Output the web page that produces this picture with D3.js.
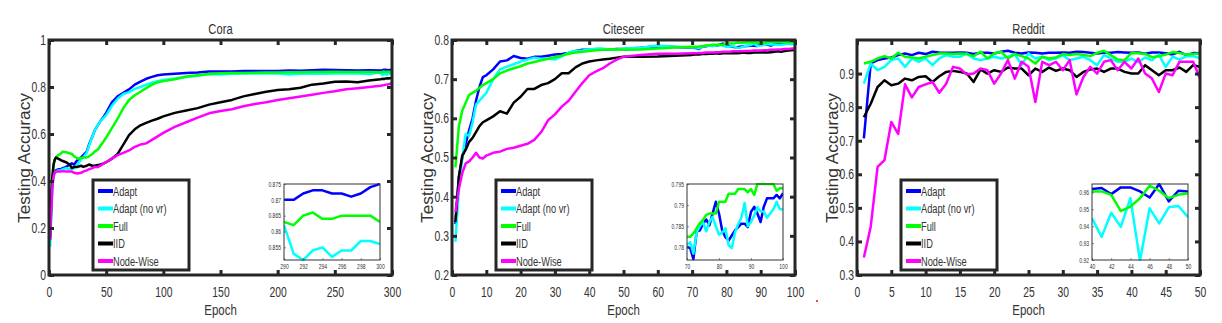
<!DOCTYPE html>
<html><head><meta charset="utf-8">
<script src="https://cdn.jsdelivr.net/npm/d3@7"></script>
<style>
body{margin:0;background:#fff;}
svg{display:block;}
text{font-family:"Liberation Sans",Arial,sans-serif;fill:#333;}
</style></head>
<body>
<svg id="chart" width="1222" height="323"></svg>
<script>
// ---------- DATA ----------
const seriesNames = ["Adapt","Adapt (no vr)","Full","IID","Node-Wise"];
const seriesColors = ["#0000ff","#00ffff","#00ff00","#000000","#ff00ff"];

// Cora
const coraEpochs = [1,2,3,4,5,6,8,10,12,15,18,20,22,25,28,30,33,35,38,40,43,45,48,50,55,60,65,70,75,80,85,90,95,100,110,120,130,140,150,160,170,180,190,200,210,220,230,240,250,260,270,280,290,291,292,293,294,295,296,297,298,299,300];
const coraAdapt = [0.15,0.30,0.40,0.43,0.44,0.445,0.45,0.45,0.455,0.46,0.47,0.475,0.47,0.49,0.50,0.51,0.525,0.555,0.59,0.615,0.64,0.655,0.675,0.69,0.735,0.76,0.775,0.79,0.81,0.823,0.835,0.843,0.85,0.853,0.856,0.86,0.862,0.866,0.866,0.866,0.868,0.868,0.868,0.868,0.87,0.869,0.871,0.873,0.872,0.871,0.87,0.871,0.870,0.870,0.872,0.873,0.873,0.872,0.872,0.871,0.872,0.874,0.875];
const coraNoVr = [0.12,0.25,0.38,0.42,0.435,0.44,0.445,0.445,0.45,0.455,0.45,0.45,0.455,0.47,0.49,0.50,0.52,0.55,0.59,0.615,0.64,0.655,0.67,0.68,0.72,0.75,0.77,0.778,0.792,0.80,0.81,0.818,0.825,0.83,0.836,0.842,0.848,0.855,0.853,0.856,0.857,0.857,0.858,0.857,0.853,0.856,0.857,0.856,0.857,0.858,0.857,0.855,0.862,0.853,0.851,0.854,0.855,0.852,0.854,0.854,0.857,0.857,0.856];
const coraFull = [0.18,0.32,0.42,0.47,0.49,0.50,0.51,0.515,0.525,0.522,0.518,0.515,0.505,0.495,0.498,0.50,0.50,0.505,0.515,0.525,0.535,0.55,0.57,0.585,0.625,0.665,0.71,0.745,0.765,0.78,0.795,0.81,0.82,0.825,0.833,0.845,0.85,0.855,0.858,0.86,0.86,0.861,0.862,0.862,0.863,0.863,0.864,0.864,0.865,0.864,0.864,0.864,0.863,0.862,0.865,0.866,0.864,0.864,0.865,0.865,0.865,0.865,0.863];
const coraIID = [0.16,0.33,0.42,0.47,0.49,0.50,0.495,0.49,0.485,0.48,0.47,0.455,0.46,0.46,0.465,0.46,0.465,0.47,0.465,0.465,0.468,0.47,0.475,0.48,0.495,0.515,0.555,0.595,0.62,0.637,0.647,0.657,0.665,0.675,0.69,0.70,0.71,0.725,0.735,0.745,0.76,0.77,0.78,0.787,0.79,0.797,0.81,0.815,0.822,0.823,0.82,0.828,0.833,0.834,0.835,0.834,0.836,0.836,0.837,0.836,0.837,0.838,0.838];
const coraNW = [0.15,0.28,0.38,0.42,0.435,0.44,0.44,0.44,0.442,0.44,0.44,0.44,0.435,0.432,0.435,0.44,0.445,0.45,0.455,0.46,0.46,0.465,0.475,0.48,0.495,0.51,0.52,0.53,0.545,0.555,0.56,0.575,0.59,0.605,0.63,0.65,0.67,0.688,0.698,0.705,0.718,0.728,0.735,0.745,0.752,0.76,0.767,0.775,0.782,0.79,0.795,0.80,0.805,0.806,0.807,0.808,0.809,0.81,0.811,0.812,0.813,0.815,0.816];
const coraXTicks = [0,50,100,150,200,250,300];
const coraYTicks = [0,0.2,0.4,0.6,0.8,1];
const coraInsetXTicks = [290,292,294,296,298,300];
const coraInsetYTicks = [0.855,0.86,0.865,0.87,0.875];

// Citeseer
const citeEpochs = [1,2,3,4,5,6,7,8,9,10,12,14,16,18,20,22,24,26,28,30,32,34,36,38,40,42,44,46,48,50,55,60,65,70,71,72,73,74,75,76,77,78,79,80,81,82,83,84,85,86,87,88,89,90,91,92,93,94,95,96,97,98,99,100];
const citeAdapt = [0.33,0.45,0.50,0.535,0.57,0.60,0.645,0.68,0.705,0.71,0.725,0.745,0.748,0.759,0.754,0.752,0.757,0.757,0.76,0.763,0.764,0.767,0.772,0.775,0.775,0.775,0.775,0.776,0.777,0.777,0.78,0.784,0.782,0.7801,0.7798,0.7772,0.7837,0.784,0.7856,0.7866,0.7852,0.788,0.7908,0.788,0.784,0.7824,0.7816,0.7828,0.784,0.7848,0.7856,0.7856,0.7848,0.7884,0.7896,0.788,0.786,0.7896,0.7916,0.7916,0.7916,0.7924,0.7916,0.7928];
const citeNoVr = [0.285,0.42,0.50,0.56,0.555,0.59,0.635,0.645,0.655,0.665,0.70,0.725,0.732,0.738,0.745,0.75,0.755,0.752,0.752,0.75,0.758,0.768,0.772,0.773,0.776,0.778,0.778,0.776,0.776,0.778,0.78,0.786,0.783,0.7806,0.7812,0.7785,0.7835,0.785,0.786,0.7838,0.786,0.7872,0.785,0.783,0.7835,0.7845,0.7805,0.7798,0.7835,0.7855,0.787,0.7905,0.785,0.786,0.7875,0.7895,0.7885,0.7885,0.787,0.788,0.789,0.7908,0.789,0.789];
const citeFull = [0.475,0.58,0.62,0.64,0.66,0.665,0.67,0.678,0.685,0.69,0.70,0.715,0.722,0.728,0.733,0.74,0.744,0.748,0.752,0.756,0.76,0.765,0.768,0.77,0.772,0.774,0.775,0.776,0.776,0.775,0.776,0.778,0.781,0.7825,0.7825,0.7833,0.7845,0.7857,0.7865,0.7877,0.788,0.788,0.788,0.7908,0.7908,0.7908,0.7927,0.7927,0.7927,0.7938,0.7938,0.7938,0.793,0.7938,0.7924,0.795,0.795,0.795,0.795,0.795,0.795,0.7934,0.794,0.794];
const citeIID = [0.335,0.45,0.505,0.52,0.54,0.55,0.565,0.58,0.59,0.595,0.605,0.618,0.612,0.64,0.655,0.675,0.675,0.685,0.69,0.70,0.715,0.715,0.73,0.74,0.745,0.748,0.75,0.752,0.755,0.757,0.757,0.758,0.76,0.762,0.763,0.763,0.764,0.764,0.765,0.765,0.766,0.765,0.766,0.766,0.767,0.766,0.766,0.767,0.768,0.767,0.767,0.768,0.768,0.768,0.769,0.768,0.769,0.770,0.771,0.770,0.772,0.773,0.774,0.775];
const citeNW = [0.36,0.42,0.46,0.485,0.49,0.50,0.512,0.50,0.497,0.505,0.512,0.515,0.522,0.525,0.53,0.535,0.545,0.565,0.595,0.61,0.63,0.645,0.668,0.69,0.71,0.72,0.728,0.74,0.75,0.757,0.762,0.765,0.765,0.766,0.766,0.767,0.767,0.768,0.768,0.768,0.769,0.769,0.770,0.770,0.770,0.771,0.771,0.771,0.772,0.772,0.772,0.773,0.773,0.773,0.774,0.774,0.775,0.775,0.776,0.776,0.777,0.777,0.778,0.778];
const citeXTicks = [0,10,20,30,40,50,60,70,80,90,100];
const citeYTicks = [0.2,0.3,0.4,0.5,0.6,0.7,0.8];
const citeInsetXTicks = [70,80,90,100];
const citeInsetYTicks = [0.78,0.785,0.79,0.795];

// Reddit
const redEpochs = [1,2,3,4,5,6,7,8,9,10,11,12,13,14,15,16,17,18,19,20,21,22,23,24,25,26,27,28,29,30,31,32,33,34,35,36,37,38,39,40,41,42,43,44,45,46,47,48,49,50];
const redAdapt = [0.707,0.93,0.94,0.945,0.948,0.955,0.96,0.955,0.962,0.958,0.965,0.963,0.962,0.962,0.963,0.962,0.958,0.962,0.962,0.96,0.965,0.968,0.962,0.96,0.963,0.962,0.96,0.962,0.962,0.963,0.962,0.965,0.964,0.962,0.96,0.962,0.962,0.964,0.963,0.962,0.9626,0.959,0.963,0.963,0.9606,0.957,0.965,0.9547,0.961,0.9606];
const redNoVr = [0.87,0.93,0.91,0.92,0.94,0.945,0.92,0.945,0.935,0.945,0.925,0.945,0.955,0.95,0.95,0.96,0.945,0.94,0.945,0.95,0.945,0.95,0.958,0.925,0.96,0.945,0.95,0.94,0.945,0.955,0.94,0.945,0.95,0.94,0.925,0.955,0.945,0.935,0.935,0.9447,0.9337,0.948,0.9396,0.9566,0.9196,0.9506,0.9417,0.9512,0.952,0.9453];
const redFull = [0.93,0.935,0.945,0.952,0.945,0.962,0.95,0.948,0.945,0.95,0.955,0.96,0.96,0.958,0.96,0.958,0.952,0.965,0.945,0.96,0.965,0.945,0.958,0.952,0.945,0.93,0.95,0.945,0.948,0.958,0.955,0.958,0.955,0.952,0.962,0.968,0.955,0.942,0.94,0.9606,0.9606,0.9586,0.949,0.9516,0.9566,0.964,0.961,0.9566,0.9586,0.9596];
const redIID = [0.77,0.81,0.86,0.88,0.865,0.87,0.885,0.88,0.89,0.892,0.875,0.892,0.905,0.908,0.905,0.9,0.875,0.912,0.9,0.91,0.905,0.918,0.915,0.915,0.895,0.915,0.905,0.918,0.908,0.915,0.91,0.89,0.905,0.912,0.915,0.905,0.915,0.915,0.905,0.9,0.9,0.925,0.91,0.895,0.91,0.91,0.918,0.905,0.925,0.92];
const redNW = [0.352,0.444,0.622,0.642,0.756,0.72,0.868,0.829,0.86,0.868,0.875,0.843,0.87,0.92,0.915,0.897,0.9,0.915,0.91,0.87,0.9,0.94,0.885,0.935,0.92,0.815,0.935,0.925,0.935,0.91,0.94,0.838,0.89,0.92,0.9,0.935,0.94,0.91,0.935,0.915,0.945,0.9,0.885,0.845,0.9,0.895,0.935,0.935,0.935,0.885];
const redXTicks = [0,5,10,15,20,25,30,35,40,45,50];
const redYTicks = [0.3,0.4,0.5,0.6,0.7,0.8,0.9];
const redInsetXTicks = [40,42,44,46,48,50];
const redInsetYTicks = [0.92,0.93,0.94,0.95,0.96];

// ---------- PANELS ----------
const panels = [
  {title:"Cora", left:49, epochs:coraEpochs, series:[coraAdapt,coraNoVr,coraFull,coraIID,coraNW],
   xDomain:[0,300], yDomain:[0,1], xTicks:coraXTicks, yTicks:coraYTicks,
   inset:{xDomain:[290,300], yDomain:[0.851,0.875], xTicks:coraInsetXTicks, yTicks:coraInsetYTicks}},
  {title:"Citeseer", left:452, epochs:citeEpochs, series:[citeAdapt,citeNoVr,citeFull,citeIID,citeNW],
   xDomain:[0,100], yDomain:[0.2,0.8], xTicks:citeXTicks, yTicks:citeYTicks,
   inset:{xDomain:[70,100], yDomain:[0.777,0.795], xTicks:citeInsetXTicks, yTicks:citeInsetYTicks}},
  {title:"Reddit", left:857, epochs:redEpochs, series:[redAdapt,redNoVr,redFull,redIID,redNW],
   xDomain:[0,50], yDomain:[0.3,1.0], xTicks:redXTicks, yTicks:redYTicks,
   inset:{xDomain:[40,50], yDomain:[0.92,0.965], xTicks:redInsetXTicks, yTicks:redInsetYTicks}}
];

const svg = d3.select("#chart");
const W = 343, plotTop = 40, plotBottom = 275;
const frameColor = "#262626";

// horizontally condense text (reference uses a narrow face)
function squeeze(sel, f) {
  sel.each(function() {
    const len = this.getComputedTextLength();
    if (len > 0) d3.select(this).attr("textLength", len * f).attr("lengthAdjust", "spacingAndGlyphs");
  });
}

panels.forEach((p, pi) => {
  const x = d3.scaleLinear().domain(p.xDomain).range([p.left, p.left + W]);
  const y = d3.scaleLinear().domain(p.yDomain).range([plotBottom, plotTop]);
  const g = svg.append("g");
  const clipId = "clip" + pi;
  svg.append("clipPath").attr("id", clipId).append("rect")
    .attr("x", p.left).attr("y", plotTop).attr("width", W).attr("height", plotBottom - plotTop);

  // lines
  const line = d3.line().x((d,i) => x(p.epochs[i])).y(d => y(d));
  const lg = g.append("g").attr("clip-path", `url(#${clipId})`);
  p.series.forEach((s, si) => {
    lg.append("path").datum(s).attr("d", line)
      .attr("fill","none").attr("stroke", seriesColors[si]).attr("stroke-width", 2.5)
      .attr("stroke-linejoin","round");
  });

  // axes
  const fmt = d => String(+d.toFixed(3));
  const ax = g.append("g").attr("transform", `translate(0,${plotBottom})`)
    .call(d3.axisBottom(x).tickValues(p.xTicks).tickSize(-5).tickSizeOuter(0).tickPadding(12).tickFormat(fmt));
  const axT = g.append("g").attr("transform", `translate(0,${plotTop})`)
    .call(d3.axisTop(x).tickValues(p.xTicks).tickSize(-5).tickSizeOuter(0).tickFormat(""));
  const ay = g.append("g").attr("transform", `translate(${p.left},0)`)
    .call(d3.axisLeft(y).tickValues(p.yTicks).tickSize(-5).tickSizeOuter(0).tickPadding(3).tickFormat(fmt));
  const ayR = g.append("g").attr("transform", `translate(${p.left+W},0)`)
    .call(d3.axisRight(y).tickValues(p.yTicks).tickSize(-5).tickSizeOuter(0).tickFormat(""));
  [ax, axT, ay, ayR].forEach(a => {
    a.select(".domain").remove();
    a.selectAll(".tick line").attr("stroke", frameColor).attr("stroke-width", 3);
    a.selectAll("text").attr("font-size", 14).attr("fill", "#333")
      .attr("font-family", '"Liberation Sans",Arial,sans-serif');
    squeeze(a.selectAll("text"), 0.74);
  });

  // frame
  g.append("rect").attr("x", p.left).attr("y", plotTop).attr("width", W).attr("height", plotBottom - plotTop)
    .attr("fill","none").attr("stroke", frameColor).attr("stroke-width", 3);

  // title & labels
  const t = g.append("text").attr("x", p.left + W/2).attr("y", 34).attr("text-anchor","middle")
    .attr("font-size", 14).text(p.title);
  squeeze(t, 0.8);
  const e = g.append("text").attr("x", p.left + W/2).attr("y", 315).attr("text-anchor","middle")
    .attr("font-size", 15.5).text("Epoch");
  squeeze(e, 0.74);
  const yl = g.append("text").attr("transform", `translate(${p.left - 19},158) rotate(-90)`)
    .attr("text-anchor","middle").attr("font-size", 16)
    .attr("font-family",'"Liberation Sans",Arial,sans-serif')
    .text("Testing Accuracy");
  yl.attr("textLength", 130).attr("lengthAdjust","spacingAndGlyphs");

  // legend
  const lx = p.left + 44, ly = 180;
  const leg = g.append("g");
  leg.append("rect").attr("x", lx).attr("y", ly).attr("width", 96).attr("height", 90)
    .attr("fill","#fff").attr("stroke", frameColor).attr("stroke-width", 3);
  seriesNames.forEach((n, i) => {
    const yy = ly + 11 + i * 17.5;
    leg.append("line").attr("x1", lx + 5).attr("x2", lx + 20).attr("y1", yy).attr("y2", yy)
      .attr("stroke", seriesColors[i]).attr("stroke-width", 4);
    const lt = leg.append("text").attr("x", lx + 20).attr("y", yy + 4.5).attr("font-size", 12.5).text(n);
    squeeze(lt, 0.74);
  });

  // inset
  const ix0 = p.left + 235, iw = 96, iy0 = 184, ih = 76;
  const xi = d3.scaleLinear().domain(p.inset.xDomain).range([ix0, ix0 + iw]);
  const yi = d3.scaleLinear().domain(p.inset.yDomain).range([iy0 + ih, iy0]);
  const ig = g.append("g");
  ig.append("rect").attr("x", ix0).attr("y", iy0).attr("width", iw).attr("height", ih).attr("fill","#fff");
  const iclip = "iclip" + pi;
  svg.append("clipPath").attr("id", iclip).append("rect")
    .attr("x", ix0).attr("y", iy0 - 1).attr("width", iw).attr("height", ih + 2);
  const iline = d3.line()
    .defined((d,i) => p.epochs[i] >= p.inset.xDomain[0])
    .x((d,i) => xi(p.epochs[i])).y(d => yi(d));
  const il = ig.append("g").attr("clip-path", `url(#${iclip})`);
  [0,1,2].forEach(si => {
    il.append("path").datum(p.series[si]).attr("d", iline)
      .attr("fill","none").attr("stroke", seriesColors[si]).attr("stroke-width", 2.5)
      .attr("stroke-linejoin","round");
  });
  const iax = ig.append("g").attr("transform", `translate(0,${iy0+ih})`)
    .call(d3.axisBottom(xi).tickValues(p.inset.xTicks).tickSize(-2).tickSizeOuter(0).tickPadding(4).tickFormat(fmt));
  const iay = ig.append("g").attr("transform", `translate(${ix0},0)`)
    .call(d3.axisLeft(yi).tickValues(p.inset.yTicks).tickSize(-2).tickSizeOuter(0).tickPadding(3).tickFormat(fmt));
  [iax, iay].forEach(a => {
    a.select(".domain").remove();
    a.selectAll(".tick line").attr("stroke", "#444").attr("stroke-width", 0.6);
    a.selectAll("text").attr("font-size", 7).attr("fill","#333")
      .attr("font-family", '"Liberation Sans",Arial,sans-serif');
    squeeze(a.selectAll("text"), 0.72);
  });
  ig.append("rect").attr("x", ix0).attr("y", iy0).attr("width", iw).attr("height", ih)
    .attr("fill","none").attr("stroke", "#333").attr("stroke-width", 1);
});

// small red mark present in the reference
svg.append("circle").attr("cx", 817).attr("cy", 301).attr("r", 1).attr("fill", "#ff0000");
</script>
</body></html>
